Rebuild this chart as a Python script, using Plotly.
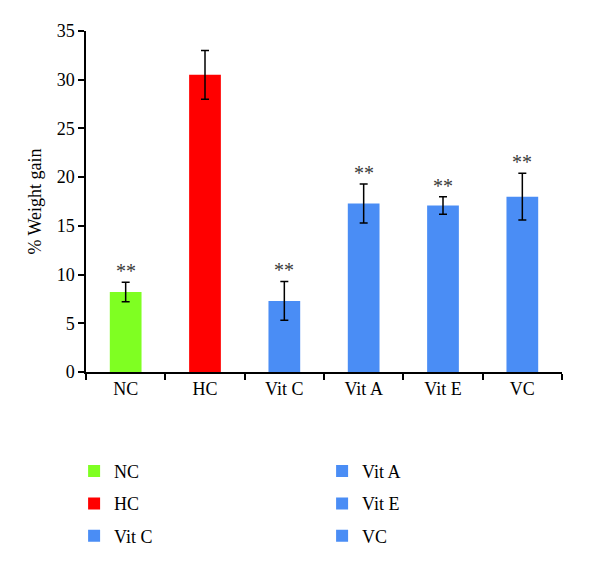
import plotly.graph_objects as go

categories = ["NC", "HC", "Vit C", "Vit A", "Vit E", "VC"]
values = [8.2, 30.5, 7.3, 17.3, 17.1, 18.0]
errors = [1.0, 2.5, 2.0, 2.0, 0.9, 2.4]
significance = ["**", "", "**", "**", "**", "**"]
colors = ["#7FFF22", "#FF0000", "#4A8DF5", "#4A8DF5", "#4A8DF5", "#4A8DF5"]
legend_ids = ["legend", "legend", "legend", "legend2", "legend2", "legend2"]

FONT = "Liberation Serif"

fig = go.Figure()
for i, cat in enumerate(categories):
    fig.add_trace(go.Bar(
        x=[cat], y=[values[i]], name=cat,
        marker=dict(color=colors[i], line=dict(width=0)),
        width=0.4,
        error_y=dict(type="data", array=[errors[i]], visible=True,
                     color="black", thickness=1.5, width=4),
        legend=legend_ids[i], legendgroup=cat,
    ))
    if significance[i]:
        fig.add_annotation(x=cat, y=values[i] + errors[i], text=significance[i],
                           showarrow=False, yanchor="bottom", yshift=-2,
                           font=dict(family=FONT, size=20, color="#3a3a3a"))

fig.update_layout(
    width=600, height=570,
    margin=dict(l=78, r=46, t=23, b=206, autoexpand=False),
    paper_bgcolor="white", plot_bgcolor="white",
    font=dict(family=FONT, size=18, color="black"),
    bargap=0.6,
    legend=dict(x=-0.025, y=-0.237, xanchor="left", yanchor="top",
                tracegroupgap=6, font=dict(family=FONT, size=18)),
    legend2=dict(x=0.496, y=-0.237, xanchor="left", yanchor="top",
                 tracegroupgap=6, font=dict(family=FONT, size=18)),
)
fig.update_xaxes(showline=True, linecolor="black", linewidth=1.5,
                 ticks="outside", tickson="boundaries", ticklen=6,
                 tickwidth=1.5, tickcolor="black", showgrid=False,
                 tickfont=dict(family=FONT, size=18))
fig.update_yaxes(range=[0, 35], dtick=5, showline=True, linecolor="black",
                 linewidth=1.5, ticks="outside", ticklen=6, tickwidth=1.5,
                 tickcolor="black", showgrid=False, zeroline=False,
                 title=dict(text="% Weight gain", font=dict(family=FONT, size=18),
                            standoff=10),
                 tickfont=dict(family=FONT, size=18))

fig.write_html("out.html")
